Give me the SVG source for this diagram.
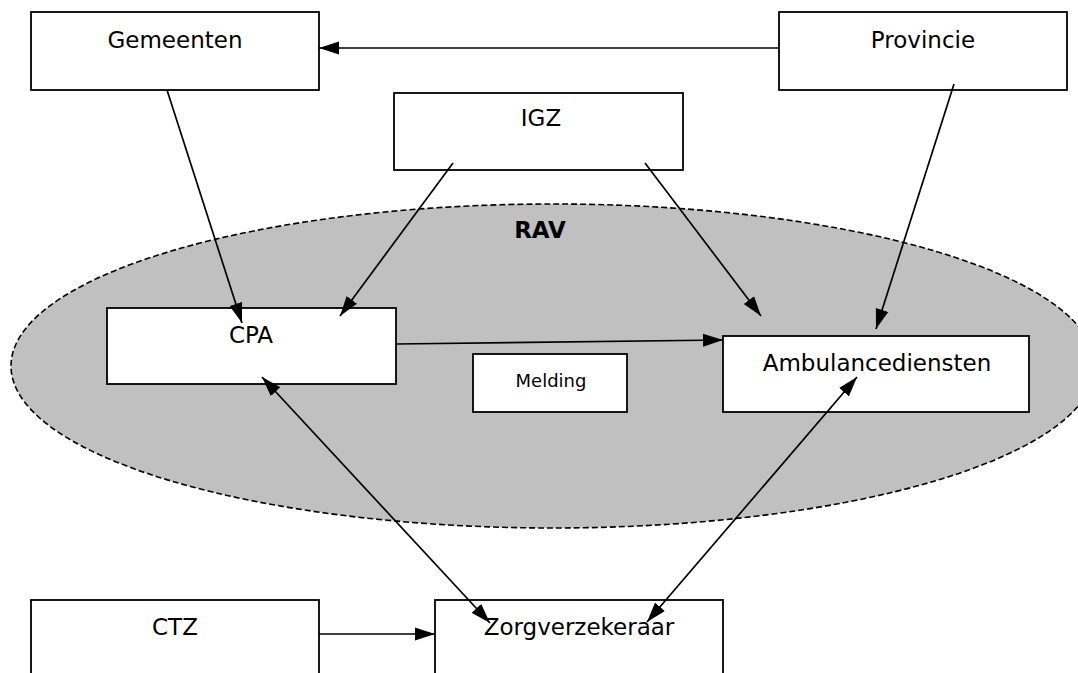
<svg xmlns="http://www.w3.org/2000/svg" width="1078" height="673" viewBox="0 0 1078 673">
<defs>
<marker id="ah" markerUnits="userSpaceOnUse" markerWidth="21" markerHeight="14" refX="20" refY="7" orient="auto-start-reverse" viewBox="0 0 21 14">
<path d="M0,0.5 L20,7 L0,13.5 z" fill="#000"/>
</marker>
<style>
.box{fill:#fff;stroke:#000;stroke-width:1.8}
.lbl{font-family:"DejaVu Sans",sans-serif;font-size:23px;fill:#000;text-anchor:middle}
.small{font-size:18px}
.edge{stroke:#000;stroke-width:1.7;fill:none}
</style>
</defs>
<rect width="1078" height="673" fill="#fff"/>
<g id="rav">
<ellipse cx="553" cy="366" rx="542" ry="162" fill="#c0c0c0" stroke="#000" stroke-width="1.6" stroke-dasharray="6,3"/>
<text x="540" y="238" class="lbl" font-weight="bold">RAV</text>
</g>
<g id="gemeenten"><rect class="box" x="31" y="12" width="288" height="78"/><text class="lbl" x="175" y="48">Gemeenten</text></g>
<g id="provincie"><rect class="box" x="779" y="12" width="288" height="78"/><text class="lbl" x="923" y="48">Provincie</text></g>
<g id="igz"><rect class="box" x="394" y="93" width="289" height="77"/><text class="lbl" x="541" y="126">IGZ</text></g>
<g id="cpa"><rect class="box" x="107" y="308" width="289" height="76"/><text class="lbl" x="251" y="343">CPA</text></g>
<g id="melding"><rect class="box" x="473" y="354" width="154" height="58"/><text class="lbl small" x="551" y="387">Melding</text></g>
<g id="ambulancediensten"><rect class="box" x="723" y="336" width="306" height="76"/><text class="lbl" x="877" y="371">Ambulancediensten</text></g>
<g id="ctz"><rect class="box" x="31" y="600" width="288" height="90"/><text class="lbl" x="175" y="635">CTZ</text></g>
<g id="zorgverzekeraar"><rect class="box" x="435" y="600" width="288" height="90"/><text class="lbl" x="579" y="635">Zorgverzekeraar</text></g>
<g id="connectors">
<line class="edge" x1="779" y1="48" x2="319" y2="48" marker-end="url(#ah)"/>
<line class="edge" x1="167" y1="90" x2="242" y2="323" marker-end="url(#ah)"/>
<line class="edge" x1="453" y1="163" x2="340" y2="316" marker-end="url(#ah)"/>
<line class="edge" x1="645" y1="163" x2="761" y2="316" marker-end="url(#ah)"/>
<line class="edge" x1="954" y1="84" x2="876" y2="329" marker-end="url(#ah)"/>
<line class="edge" x1="396" y1="344" x2="723" y2="340" marker-end="url(#ah)"/>
<line class="edge" x1="262" y1="377" x2="490" y2="623" marker-start="url(#ah)" marker-end="url(#ah)"/>
<line class="edge" x1="857" y1="377" x2="647" y2="622" marker-start="url(#ah)" marker-end="url(#ah)"/>
<line class="edge" x1="319" y1="634" x2="435" y2="634" marker-end="url(#ah)"/>
</g>
</svg>
